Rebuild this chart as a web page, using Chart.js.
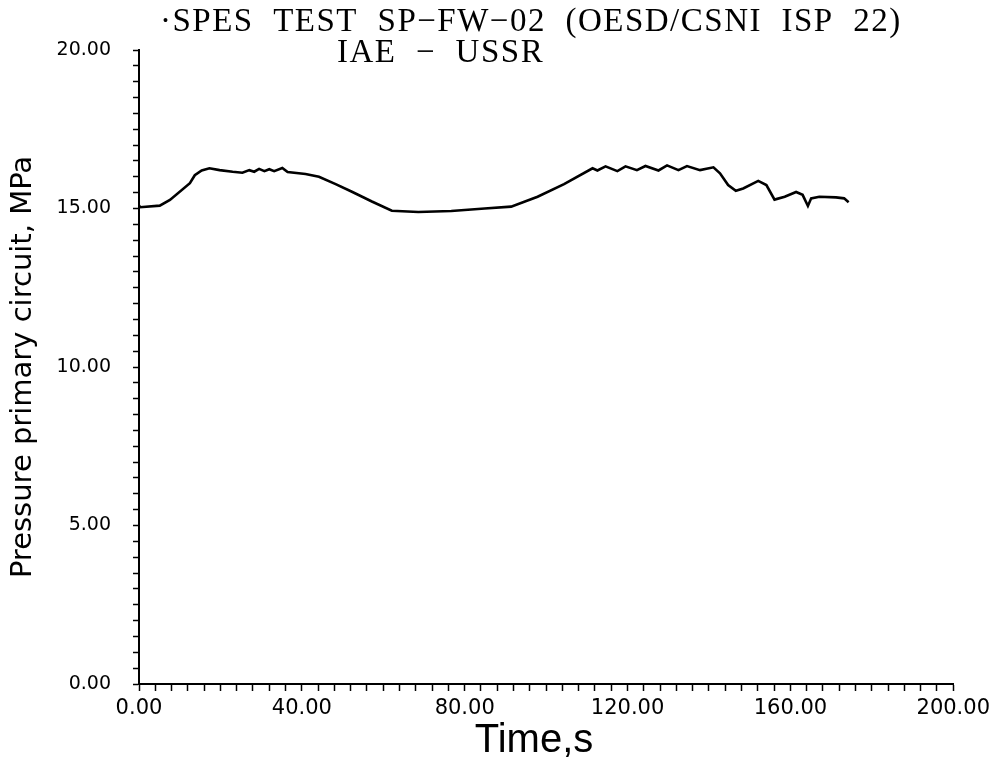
<!DOCTYPE html>
<html lang="en">
<head>
  <meta charset="UTF-8">
  <title>SPES TEST SP-FW-02</title>
  <script src="https://cdn.jsdelivr.net/npm/chart.js"></script>
  <style>
    html, body { margin: 0; padding: 0; background: #fff; }
  </style>
</head>
<body>
  <canvas id="myChart" width="995" height="762"></canvas>

  <script>
    // values
    const timeS = [0, 0.3, 5.1, 7.6, 12.5, 13.7, 15.4, 17.3, 19.8, 23, 25.4,
      27.1, 28.3, 29.5, 30.8, 32, 33.2, 35.2, 36.5, 40.9, 44.2, 48.3, 52.3, 57.2,
      62.1, 68.6, 76.7, 84.9, 91.4, 97.9, 104.4, 111.4, 112.6, 114.6, 117.5, 119.5,
      122.3, 124.4, 127.6, 129.7, 132.5, 134.6, 137.8, 141.1, 142.7, 144.7, 146.6,
      148.4, 152.1, 154.1, 156.1, 158.6, 161.4, 163, 164.3, 165.1, 167.1, 171.2,
      173.2, 174.3];
    const pressureMPa = [15.10, 15.04, 15.09, 15.27, 15.80, 16.05, 16.20, 16.27, 16.21, 16.16, 16.13,
      16.21, 16.16, 16.25, 16.18, 16.24, 16.18, 16.28, 16.15, 16.09, 16.00, 15.77, 15.53, 15.22,
      14.93, 14.89, 14.92, 15.00, 15.06, 15.37, 15.77, 16.27, 16.20, 16.33, 16.18, 16.33,
      16.21, 16.34, 16.20, 16.36, 16.21, 16.34, 16.21, 16.30, 16.11, 15.74, 15.56,
      15.63, 15.87, 15.74, 15.28, 15.37, 15.52, 15.43, 15.08, 15.32, 15.37, 15.35,
      15.32, 15.20];

    const xLabels = [0, 40, 80, 120, 160, 200];
    const yLabels = [0, 5, 10, 15, 20];

    const titleLine1 = '·SPES  TEST  SP−FW−02  (OESD/CSNI  ISP  22)';
    const titleLine2 = 'IAE  −  USSR';
    const xTitle = 'Time,s';

    const titlePlugin = {
      id: 'plotTitle',
      afterDraw(chart) {
        const c = chart.ctx;
        c.save();
        c.fillStyle = '#000';
        c.textBaseline = 'alphabetic';
        c.font = '33px "Liberation Serif", serif';
        c.letterSpacing = '1.5px';
        c.textAlign = 'left';
        c.fillText(titleLine1, 160, 31);
        c.fillText(titleLine2, 337, 62);
        c.letterSpacing = '0px';
        c.font = '40px "Liberation Sans", sans-serif';
        c.textAlign = 'center';
        c.fillText(xTitle, 534, 752);
        c.restore();
      }
    };

    const ctx = document.getElementById('myChart').getContext('2d');
    const chart = new Chart(ctx, {
      type: 'line',
      data: {
        datasets: [{
          data: timeS.map((t, i) => ({ x: t, y: pressureMPa[i] })),
          borderColor: '#000',
          borderWidth: 2.6,
          pointRadius: 0,
          tension: 0,
          fill: false
        }]
      },
      options: {
        responsive: false,
        animation: false,
        devicePixelRatio: 1,
        layout: { padding: { left: 0, right: 37, top: 50, bottom: 0 } },
        plugins: {
          legend: { display: false },
          tooltip: { enabled: false }
        },
        scales: {
          x: {
            type: 'linear',
            min: 0,
            max: 200,
            afterFit: s => { s.height = 78; },
            border: { display: true, color: '#000', width: 2 },
            grid: { drawOnChartArea: false, tickLength: 7, tickColor: '#000', tickWidth: 1.5 },
            ticks: {
              stepSize: 4,
              autoSkip: false,
              maxRotation: 0,
              padding: 5,
              color: '#000',
              font: { family: '"DejaVu Sans", sans-serif', size: 21 },
              callback: v => xLabels.includes(v) ? v.toFixed(2) : ''
            }
          },
          y: {
            min: 0,
            max: 20,
            afterFit: s => { s.width = 139; },
            border: { display: true, color: '#000', width: 2 },
            grid: { drawOnChartArea: false, tickLength: 6, tickColor: '#000', tickWidth: 1.5 },
            ticks: {
              stepSize: 0.5,
              autoSkip: false,
              padding: 22,
              color: '#000',
              font: { family: '"DejaVu Sans", sans-serif', size: 19 },
              callback: v => yLabels.includes(v) ? v.toFixed(2) : ''
            },
            title: {
              display: true,
              text: 'Pressure primary circuit, MPa',
              color: '#000',
              font: { family: '"DejaVu Sans", sans-serif', size: 29 },
              padding: { top: 6, bottom: 0 }
            }
          }
        }
      },
      plugins: [titlePlugin]
    });
  </script>
</body>
</html>
